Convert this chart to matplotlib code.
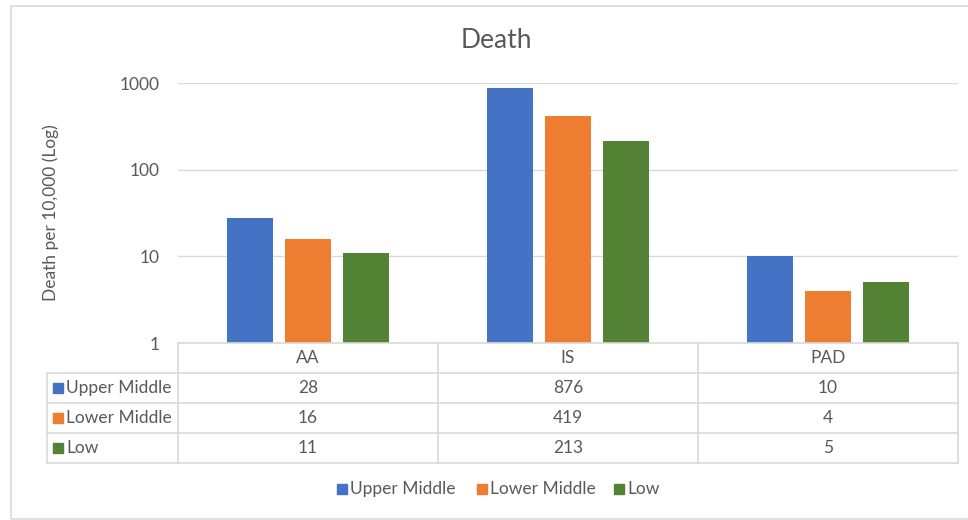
import matplotlib
matplotlib.use("Agg")
import matplotlib.pyplot as plt
from matplotlib.patches import Rectangle
import numpy as np

categories = ["AA", "IS", "PAD"]
series_names = ["Upper Middle", "Lower Middle", "Low"]
upper_middle = [28, 876, 10]
lower_middle = [16, 419, 4]
low = [11, 213, 5]
colors = ["#4472C4", "#ED7D31", "#548235"]
yticks = [1, 10, 100, 1000]
ytick_labels = ["1", "10", "100", "1000"]

series = [upper_middle, lower_middle, low]

plt.rcParams['font.family'] = ['Lato', 'DejaVu Sans']
TXT = "#595959"
GRID = "#D9D9D9"
FS = 12.5

W, H = 968, 520
fig = plt.figure(figsize=(W / 100, H / 100), dpi=100)

def fx(px):
    return px / W

def fy(py):
    return 1 - py / H

# chart border
fig.add_artist(Rectangle((fx(11), fy(519)), fx(975) - fx(11), fy(6) - fy(519),
                         transform=fig.transFigure, fill=False, edgecolor="#D9D9D9", lw=1.2))

# plot area
left, right, top, bottom = 178, 958, 83, 343
ax = fig.add_axes([fx(left), fy(bottom), fx(right) - fx(left), fy(top) - fy(bottom)])
ax.set_yscale("log")
ax.set_xlim(0, len(categories))
x = np.arange(len(categories)) + 0.5
bw = 46 / 260
gap = 12 / 260
for i, (vals, c) in enumerate(zip(series, colors)):
    ax.bar(x + (i - 1) * (bw + gap), vals, width=bw, color=c, zorder=3)
ax.set_ylim(1, 1000)
ax.set_yticks(yticks)
ax.set_yticklabels(ytick_labels)
ax.yaxis.set_minor_locator(matplotlib.ticker.NullLocator())
ax.tick_params(axis="y", length=0, labelsize=FS, labelcolor=TXT, pad=13)
ax.set_xticks([])
for s in ax.spines.values():
    s.set_visible(False)
ax.grid(axis="y", color=GRID, lw=1, zorder=0)
ax.set_facecolor("none")

fig.text(fx(51), fy(213), "Death per 10,000 (Log)", rotation=90, ha="center", va="center",
         fontsize=FS, color=TXT)
fig.text(fx(496), fy(40), "Death", ha="center", va="center", fontsize=19, color=TXT)

# data table
tax = fig.add_axes([0, 0, 1, 1], facecolor="none")
tax.set_xlim(0, W)
tax.set_ylim(H, 0)
tax.axis("off")
col_edges = [178, 438, 698, 958]
row_edges = [343, 373, 403, 433, 463]
lbl_left = 47
lc = dict(color=GRID, lw=1.2)
tax.plot([col_edges[0], col_edges[-1]], [row_edges[0]] * 2, **lc)
for ry in row_edges[1:]:
    tax.plot([lbl_left, col_edges[-1]], [ry, ry], **lc)
for cx in col_edges:
    tax.plot([cx, cx], [row_edges[0], row_edges[-1]], **lc)
tax.plot([lbl_left, lbl_left], [row_edges[1], row_edges[-1]], **lc)

for j, cat in enumerate(categories):
    cx = (col_edges[j] + col_edges[j + 1]) / 2
    tax.text(cx, (row_edges[0] + row_edges[1]) / 2, cat, ha="center", va="center",
             fontsize=FS, color=TXT)
for i, (name, vals, c) in enumerate(zip(series_names, series, colors)):
    cy = (row_edges[i + 1] + row_edges[i + 2]) / 2
    tax.add_patch(Rectangle((53, cy - 5), 10, 10, color=c))
    tax.text(66, cy, name, ha="left", va="center", fontsize=FS, color=TXT)
    for j, v in enumerate(vals):
        cx = (col_edges[j] + col_edges[j + 1]) / 2
        tax.text(cx, cy, str(v), ha="center", va="center", fontsize=FS, color=TXT)

# legend
leg_y = 489
leg_x = [337, 477, 614]
for name, c, lx in zip(series_names, colors, leg_x):
    tax.add_patch(Rectangle((lx, leg_y - 5), 10, 10, color=c))
    tax.text(lx + 13, leg_y, name, ha="left", va="center", fontsize=FS, color=TXT)

fig.savefig("out.png", dpi=100)
